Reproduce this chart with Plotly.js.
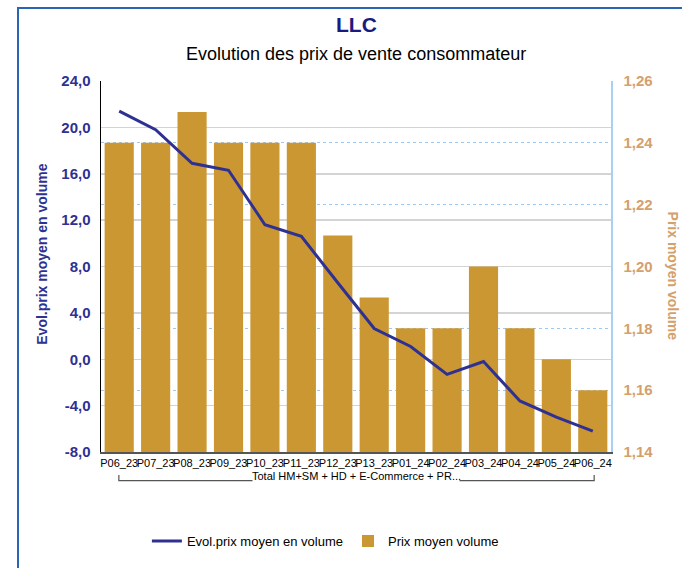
<!DOCTYPE html>
<html>
<head>
<meta charset="utf-8">
<script src="https://cdn.plot.ly/plotly-3.0.1.min.js"></script>
<style>
html,body{margin:0;padding:0;background:#fff;}
#wrap{position:relative;width:682px;height:568px;}
#chart{width:682px;height:568px;}
#frame{position:absolute;left:17px;top:7px;width:680px;height:580px;border-left:2px solid #2a64b4;border-top:2px solid #2a64b4;pointer-events:none;}
</style>
</head>
<body>
<div id="wrap"><div id="chart"></div><div id="frame"></div></div>
<script>
const categories = ["P06_23","P07_23","P08_23","P09_23","P10_23","P11_23","P12_23","P13_23","P01_24","P02_24","P03_24","P04_24","P05_24","P06_24"];
const evolPrix = [21.4, 19.8, 16.9, 16.3, 11.6, 10.6, 6.6, 2.65, 1.1, -1.3, -0.2, -3.6, -5.0, -6.2];
const prixMoyen = [1.24, 1.24, 1.25, 1.24, 1.24, 1.24, 1.21, 1.19, 1.18, 1.18, 1.20, 1.18, 1.17, 1.16];
const leftTicks = [-8, -4, 0, 4, 8, 12, 16, 20, 24];
const leftTickText = ["-8,0", "-4,0", "0,0", "4,0", "8,0", "12,0", "16,0", "20,0", "24,0"];
const rightTicks = [1.14, 1.16, 1.18, 1.20, 1.22, 1.24, 1.26];
const rightTickText = ["1,14", "1,16", "1,18", "1,20", "1,22", "1,24", "1,26"];
const groupLabel = "Total HM+SM + HD + E-Commerce + PR...";

const FONT = "Liberation Sans, Arial, sans-serif";
const NAVY = "#2e3192";
const TAN = "#d4a06c";

const traces = [
  {
    type: "bar", name: "Prix moyen volume", x: categories, y: prixMoyen,
    yaxis: "y", marker: {color: "#cb9733"}, legendrank: 2
  },
  {
    type: "scatter", mode: "lines", name: "Evol.prix moyen en volume",
    x: categories, y: evolPrix, yaxis: "y2",
    line: {color: "#2e3192", width: 3}, legendrank: 1
  }
];

const layout = {
  width: 682, height: 568,
  margin: {l: 101, r: 71, t: 81, b: 114},
  paper_bgcolor: "#fff", plot_bgcolor: "#fff",
  separators: ", ",
  font: {family: FONT, size: 12, color: "#000"},
  bargap: 0.2,
  showlegend: true,
  legend: {orientation: "h", x: 0.44, xanchor: "center", y: -0.24, yanchor: "middle",
           font: {family: FONT, size: 13, color: "#000"}, itemwidth: 30, tracegroupgap: 0},
  xaxis: {
    type: "category", showgrid: false, ticks: "", tickangle: 0,
    tickfont: {family: FONT, size: 11, color: "#000"},
    showline: true, linecolor: "#555", linewidth: 1.5, automargin: false
  },
  yaxis: {
    side: "right", range: [1.14, 1.26], tickvals: rightTicks, ticktext: rightTickText,
    tickfont: {family: FONT, size: 15, color: TAN, weight: "bold"},
    showgrid: true, gridcolor: "#9ccaf5", griddash: "dot", gridwidth: 1,
    showline: true, linecolor: "#a8d0f5", linewidth: 1.5, zeroline: false,
    ticks: "", ticklabelstandoff: 8, automargin: false
  },
  yaxis2: {
    side: "left", overlaying: "y", range: [-8, 24], tickvals: leftTicks, ticktext: leftTickText,
    tickfont: {family: FONT, size: 15, color: NAVY, weight: "bold"},
    showgrid: true, gridcolor: "#d4d4d4", gridwidth: 1.5,
    showline: true, linecolor: "#000", linewidth: 1.5, zeroline: false,
    ticks: "", ticklabelstandoff: 6, automargin: false
  },
  annotations: [
    {text: "<b>LLC</b>", xref: "paper", yref: "paper", x: 0.5, y: 1.152, xanchor: "center", yanchor: "middle",
     showarrow: false, font: {family: FONT, size: 21, color: "#1a1a80"}},
    {text: "Evolution des prix de vente consommateur", xref: "paper", yref: "paper", x: 0.5, y: 1.072,
     xanchor: "center", yanchor: "middle", showarrow: false, font: {family: FONT, size: 18, color: "#000"}},
    {text: "<b>Evol.prix moyen en volume</b>", xref: "paper", yref: "paper", x: -0.116, y: 0.534,
     xanchor: "center", yanchor: "middle", textangle: -90, showarrow: false,
     font: {family: FONT, size: 14, color: NAVY}},
    {text: "<b>Prix moyen volume</b>", xref: "paper", yref: "paper", x: 1.122, y: 0.475,
     xanchor: "center", yanchor: "middle", textangle: 90, showarrow: false,
     font: {family: FONT, size: 14, color: TAN}},
    {text: groupLabel, xref: "paper", yref: "paper", x: 0.5, y: -0.065,
     xanchor: "center", yanchor: "middle", showarrow: false, font: {family: FONT, size: 11, color: "#000"}}
  ],
  shapes: [
    {type: "path", xref: "paper", yref: "paper",
     path: "M 0.035,-0.062 L 0.035,-0.077 L 0.297,-0.077", line: {color: "#555", width: 1.2}},
    {type: "path", xref: "paper", yref: "paper",
     path: "M 0.703,-0.077 L 0.967,-0.077 L 0.967,-0.062", line: {color: "#555", width: 1.2}}
  ]
};

Plotly.newPlot("chart", traces, layout, {displayModeBar: false, staticPlot: true});
</script>
</body>
</html>
